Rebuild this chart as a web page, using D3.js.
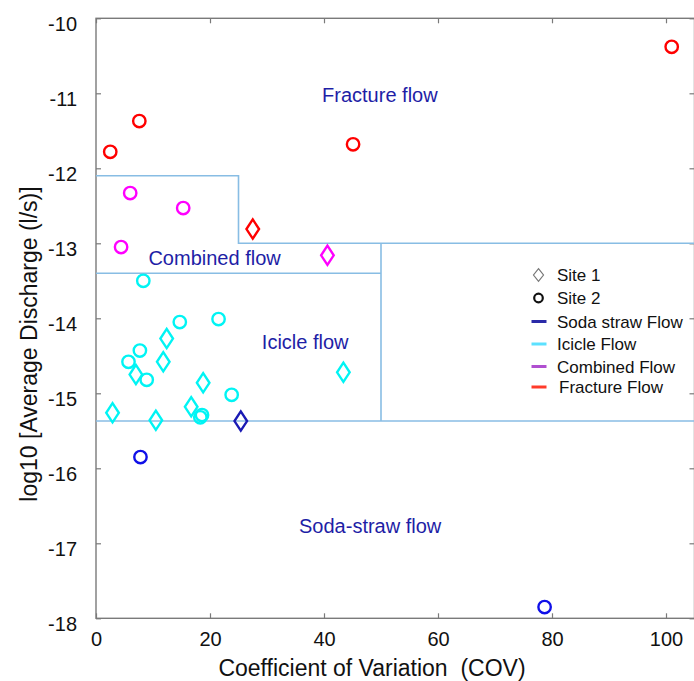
<!DOCTYPE html>
<html><head><meta charset="utf-8">
<script src="https://cdn.jsdelivr.net/npm/d3@7/dist/d3.min.js"></script>
<style>
html,body{margin:0;padding:0;background:#fff;}
svg{display:block;font-family:"Liberation Sans",Arial,Helvetica,sans-serif;}
</style></head>
<body>
<svg id="chart" width="694" height="681"></svg>
<script>
// ---- data ----
const flowTypes = ["Soda straw Flow", "Icicle Flow", "Combined Flow", "Fracture Flow"];
const siteNames = ["Site 1", "Site 2"];
const xTicks = [0, 20, 40, 60, 80, 100];
const yTicks = [-10, -11, -12, -13, -14, -15, -16, -17, -18];

// Site 1 (diamonds)
const site1COV  = [27.5, 40.6, 12.4, 11.8, 7.0, 18.8, 43.4, 2.9, 16.7, 10.5, 25.4];
const site1LogQ = [-12.81, -13.16, -14.27, -14.58, -14.75, -14.86, -14.72, -15.26, -15.18, -15.36, -15.37];
const site1Flow = ["Fracture Flow", "Combined Flow", "Icicle Flow", "Icicle Flow", "Icicle Flow", "Icicle Flow",
                   "Icicle Flow", "Icicle Flow", "Icicle Flow", "Icicle Flow", "Soda straw Flow"];

// Site 2 (circles)
const site2COV  = [2.5, 7.6, 45.1, 101.0, 6.0, 15.3, 4.4, 8.3, 14.7, 21.5, 7.7, 5.7, 8.9, 23.8, 18.3, 18.6, 7.8, 78.7];
const site2LogQ = [-11.78, -11.37, -11.68, -10.38, -12.33, -12.53, -13.05, -13.50, -14.05, -14.01, -14.43, -14.58,
                   -14.82, -15.02, -15.32, -15.29, -15.85, -17.85];
const site2Flow = ["Fracture Flow", "Fracture Flow", "Fracture Flow", "Fracture Flow",
                   "Combined Flow", "Combined Flow", "Combined Flow",
                   "Icicle Flow", "Icicle Flow", "Icicle Flow", "Icicle Flow", "Icicle Flow", "Icicle Flow",
                   "Icicle Flow", "Icicle Flow", "Icicle Flow",
                   "Soda straw Flow", "Soda straw Flow"];

// flow-regime boundaries (COV, log10 Q) polylines
const fractureBoundaryCOV  = [0, 25, 25, 105];
const fractureBoundaryLogQ = [-12.1, -12.1, -13.0, -13.0];
const combinedBoundaryCOV  = [0, 50];
const combinedBoundaryLogQ = [-13.4, -13.4];
const icicleBoundaryCOV    = [50, 50];
const icicleBoundaryLogQ   = [-13.0, -15.37];
const sodaBoundaryCOV      = [0, 105];
const sodaBoundaryLogQ     = [-15.37, -15.37];

const regionLabels = ["Fracture flow", "Combined flow", "Icicle flow", "Soda-straw flow"];
const regionLabelCOV  = [49.8, 20.8, 36.7, 48.1];
const regionLabelLogQ = [-11.11, -13.29, -14.41, -16.86];

// ---- chart ----
const svg = d3.select("#chart");
const mLeft = 96, mRight = 694.5, mTop = 18.3, mBottom = 618.3;
const x = d3.scaleLinear().domain([0, 105]).range([mLeft, mRight]);
const y = d3.scaleLinear().domain([-18, -10]).range([mBottom, mTop]);

const markerColor = {
  "Fracture Flow": "#ff0000",
  "Combined Flow": "#ff00ff",
  "Icicle Flow": "#00f4f4",
  "Soda straw Flow": "#1010e8"
};
const sodaDiamond = "#1a1ab4";
const legendLine = {
  "Soda straw Flow": "#2a2aa8",
  "Icicle Flow": "#5ce1ff",
  "Combined Flow": "#b04fd0",
  "Fracture Flow": "#ff3b2a"
};
const axisColor = "#7a7a7a";
const boundaryColor = "#88bde4";
const labelColor = "#1e1ea6";
const hyphenFormat = d => String(d);

// frame
svg.append("rect").attr("x", mLeft).attr("y", mTop)
  .attr("width", mRight - mLeft).attr("height", mBottom - mTop)
  .attr("fill", "none").attr("stroke", axisColor).attr("stroke-width", 1.4);

// axes with inward ticks
function styleAxis(g) {
  g.select(".domain").remove();
  g.selectAll(".tick line").attr("stroke", axisColor).attr("stroke-width", 1.2);
  g.selectAll(".tick text").attr("fill", "#111").attr("font-size", 20)
    .attr("font-family", "Liberation Sans, Arial, sans-serif");
}
svg.append("g").attr("transform", `translate(0,${mBottom})`)
  .call(d3.axisBottom(x).tickValues(xTicks).tickSize(-5).tickPadding(14).tickFormat(hyphenFormat))
  .call(styleAxis);
svg.append("g").attr("transform", `translate(0,${mTop})`)
  .call(d3.axisTop(x).tickValues(xTicks).tickSize(-5).tickFormat(""))
  .call(styleAxis);
const yAx = svg.append("g").attr("transform", `translate(${mLeft},0)`)
  .call(d3.axisLeft(y).tickValues(yTicks).tickSize(-5).tickPadding(19).tickFormat(hyphenFormat))
  .call(styleAxis);
yAx.selectAll(".tick text").attr("dy", "0.62em");
svg.append("g").attr("transform", `translate(${mRight},0)`)
  .call(d3.axisRight(y).tickValues(yTicks).tickSize(-5).tickFormat(""))
  .call(styleAxis);

// boundaries
const line = d3.line().x(d => x(d[0])).y(d => y(d[1]));
const boundaries = [
  d3.zip(fractureBoundaryCOV, fractureBoundaryLogQ),
  d3.zip(combinedBoundaryCOV, combinedBoundaryLogQ),
  d3.zip(icicleBoundaryCOV, icicleBoundaryLogQ),
  d3.zip(sodaBoundaryCOV, sodaBoundaryLogQ)
];
svg.append("g").selectAll("path").data(boundaries).join("path")
  .attr("d", line).attr("fill", "none")
  .attr("stroke", boundaryColor).attr("stroke-width", 1.6);

// region labels
svg.append("g").selectAll("text").data(regionLabels).join("text")
  .attr("x", (d, i) => x(regionLabelCOV[i]))
  .attr("y", (d, i) => y(regionLabelLogQ[i]))
  .attr("text-anchor", "middle")
  .attr("font-size", 20).attr("fill", labelColor)
  .text(d => d);

// markers
const diamondPath = (hw, hh) => `M0,${-hh}L${hw},0L0,${hh}L${-hw},0Z`;
svg.append("g").selectAll("path").data(d3.range(site1COV.length)).join("path")
  .attr("transform", i => `translate(${x(site1COV[i])},${y(site1LogQ[i])})`)
  .attr("d", diamondPath(6.3, 9.6))
  .attr("fill", "none")
  .attr("stroke", i => site1Flow[i] === "Soda straw Flow" ? sodaDiamond : markerColor[site1Flow[i]])
  .attr("stroke-width", 2.4);

svg.append("g").selectAll("circle").data(d3.range(site2COV.length)).join("circle")
  .attr("cx", i => x(site2COV[i])).attr("cy", i => y(site2LogQ[i]))
  .attr("r", 6.2)
  .attr("fill", "none")
  .attr("stroke", i => markerColor[site2Flow[i]])
  .attr("stroke-width", 2.4);

// legend
const lg = svg.append("g");
const lgX = 538.5, lgTextX = 557, lgRows = [275, 298, 321.5, 344, 366.5, 387];
lg.append("path").attr("transform", `translate(${lgX},${lgRows[0]})`)
  .attr("d", diamondPath(5, 6.3)).attr("fill", "none").attr("stroke", "#777").attr("stroke-width", 1.2);
lg.append("circle").attr("cx", lgX).attr("cy", lgRows[1]).attr("r", 4.3)
  .attr("fill", "none").attr("stroke", "#111").attr("stroke-width", 2.2);
flowTypes.forEach((f, i) => {
  lg.append("line").attr("x1", lgX - 7).attr("x2", lgX + 8)
    .attr("y1", lgRows[i + 2]).attr("y2", lgRows[i + 2])
    .attr("stroke", legendLine[f]).attr("stroke-width", 3);
});
const lgLabels = siteNames.concat(flowTypes);
lg.selectAll("text").data(lgLabels).join("text")
  .attr("x", (d, i) => i === 5 ? lgTextX + 2 : lgTextX)
  .attr("y", (d, i) => lgRows[i]).attr("dy", "0.36em")
  .attr("font-size", 17).attr("fill", "#111").text(d => d);

// axis titles
svg.append("text").attr("x", 372).attr("y", 676)
  .attr("text-anchor", "middle").attr("font-size", 23).attr("fill", "#111")
  .style("white-space", "pre")
  .text("Coefficient of Variation  (COV)");
svg.append("text").attr("transform", "translate(37,344) rotate(-90)")
  .attr("text-anchor", "middle").attr("font-size", 23).attr("fill", "#111")
  .text("log10 [Average Discharge (l/s)]");
</script>
</body></html>
